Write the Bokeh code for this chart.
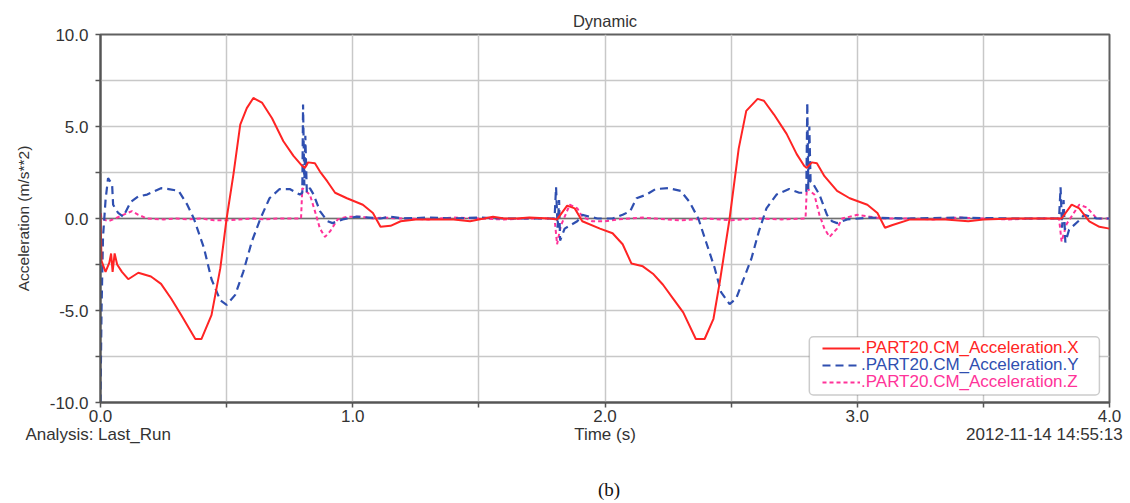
from bokeh.plotting import figure
from bokeh.models import (Range1d, FixedTicker, Span, Legend, LegendItem, LinearAxis,
                          BoxAnnotation, CustomJSTickFormatter)
from bokeh.embed import file_html
from bokeh.resources import INLINE

# ---------------- data ----------------
t_x = [0.000, 0.004, 0.020, 0.035, 0.042, 0.048, 0.056, 0.066, 0.085, 0.110, 0.150, 0.200,
       0.240, 0.280, 0.320, 0.376, 0.400, 0.440, 0.475, 0.500, 0.527, 0.554, 0.580, 0.606,
       0.640, 0.680, 0.725, 0.765, 0.800, 0.810, 0.823, 0.850, 0.870, 0.900, 0.930, 0.977,
       1.040, 1.080, 1.110, 1.150, 1.190, 1.250, 1.300, 1.350, 1.400, 1.465, 1.520, 1.556,
       1.600, 1.650, 1.700, 1.780, 1.810, 1.850, 1.880, 1.910, 1.980, 2.030, 2.070, 2.105,
       2.150, 2.190, 2.230, 2.270, 2.310, 2.360, 2.395, 2.430, 2.455, 2.494, 2.530, 2.560,
       2.605, 2.630, 2.670, 2.720, 2.760, 2.790, 2.800, 2.820, 2.840, 2.870, 2.920, 2.970,
       3.040, 3.080, 3.110, 3.140, 3.210, 3.290, 3.350, 3.440, 3.500, 3.620, 3.750, 3.810,
       3.850, 3.880, 3.920, 3.960, 4.000]
acc_x = [0.3, -2.3, -2.9, -2.4, -1.9, -2.9, -1.9, -2.5, -2.9, -3.3, -2.95, -3.15,
         -3.55, -4.35, -5.25, -6.55, -6.55, -5.25, -2.7, 0.0, 2.4, 5.1, 6.0, 6.55,
         6.3, 5.45, 4.2, 3.4, 2.85, 2.75, 3.05, 3.0, 2.55, 2.0, 1.4, 1.1,
         0.75, 0.3, -0.45, -0.4, -0.15, -0.05, -0.05, -0.05, -0.05, -0.15, 0.0, 0.1,
         0.0, 0.0, 0.05, 0.0, -0.05, 0.7, 0.55, -0.15, -0.55, -0.8, -1.4, -2.45,
         -2.6, -3.0, -3.6, -4.35, -5.1, -6.55, -6.55, -5.45, -3.45, 0.0, 3.8, 5.85,
         6.5, 6.4, 5.65, 4.6, 3.5, 2.85, 2.75, 3.05, 3.0, 2.3, 1.5, 1.1,
         0.75, 0.3, -0.5, -0.35, -0.05, -0.05, -0.05, -0.15, -0.05, 0.0, 0.0, 0.0,
         0.75, 0.55, -0.15, -0.45, -0.55]

t_y = [0.000, 0.004, 0.010, 0.020, 0.030, 0.046, 0.050, 0.070, 0.090, 0.120, 0.150, 0.185,
       0.240, 0.270, 0.310, 0.344, 0.370, 0.410, 0.440, 0.475, 0.500, 0.534, 0.566, 0.600,
       0.634, 0.670, 0.710, 0.750, 0.790, 0.800, 0.803, 0.808, 0.812, 0.818, 0.830, 0.845,
       0.870, 0.900, 0.920, 0.960, 1.015, 1.110, 1.150, 1.200, 1.300, 1.400, 1.500, 1.600,
       1.700, 1.800, 1.806, 1.812, 1.818, 1.822, 1.840, 1.890, 1.910, 1.970, 2.030, 2.070,
       2.100, 2.125, 2.165, 2.200, 2.250, 2.300, 2.335, 2.370, 2.400, 2.435, 2.460, 2.494,
       2.520, 2.545, 2.580, 2.610, 2.640, 2.680, 2.730, 2.770, 2.798, 2.802, 2.806, 2.810,
       2.815, 2.820, 2.850, 2.880, 2.900, 2.920, 2.960, 3.050, 3.200, 3.400, 3.600, 3.800,
       3.806, 3.812, 3.818, 3.825, 3.840, 3.880, 3.900, 3.950, 4.000]
acc_y = [-10.0, -5.0, -1.0, 1.0, 2.2, 1.85, 0.75, 0.3, 0.1, 0.9, 1.2, 1.3,
         1.65, 1.6, 1.5, 0.75, 0.0, -1.6, -3.3, -4.45, -4.7, -4.15, -2.9, -1.25,
         0.0, 1.1, 1.6, 1.6, 1.3, 1.4, 6.2, 1.8, 4.5, 1.4, 1.65, 1.3,
         0.4, -0.15, -0.25, -0.05, 0.1, 0.0, 0.1, 0.0, 0.05, 0.0, 0.05, 0.0,
         0.0, 0.0, 1.7, -0.5, 1.0, -1.2, -0.55, -0.15, 0.2, 0.0, 0.0, 0.2,
         0.4, 1.1, 1.3, 1.6, 1.65, 1.5, 0.9, 0.0, -1.25, -2.7, -4.0, -4.65,
         -4.35, -3.45, -2.2, -0.7, 0.55, 1.3, 1.6, 1.4, 1.4, 6.3, 1.6, 5.0,
         2.0, 2.0, 1.3, 0.2, -0.15, -0.25, -0.05, 0.05, 0.0, 0.05, 0.0, 0.0,
         1.7, -0.5, 1.0, -1.3, -0.6, -0.1, 0.2, 0.0, 0.0]

t_z = [0.000, 0.005, 0.030, 0.050, 0.090, 0.125, 0.150, 0.185, 0.250, 0.300, 0.350, 0.400,
       0.450, 0.500, 0.550, 0.600, 0.650, 0.700, 0.750, 0.795, 0.800, 0.830, 0.850, 0.870,
       0.890, 0.910, 0.940, 0.980, 1.030, 1.080, 1.120, 1.200, 1.300, 1.400, 1.500, 1.600,
       1.700, 1.800, 1.810, 1.825, 1.860, 1.890, 1.910, 1.950, 2.000, 2.050, 2.100, 2.150,
       2.200, 2.300, 2.400, 2.500, 2.600, 2.700, 2.795, 2.800, 2.830, 2.850, 2.870, 2.890,
       2.920, 2.940, 3.000, 3.050, 3.100, 3.200, 3.300, 3.400, 3.500, 3.600, 3.700, 3.800,
       3.810, 3.830, 3.880, 3.910, 3.950, 4.000]
acc_z = [0.3, 0.0, -0.15, -0.05, 0.2, 0.4, 0.2, 0.0, -0.05, 0.0, -0.05, 0.0,
         -0.1, -0.1, -0.05, 0.0, -0.05, 0.0, 0.0, 0.0, 1.65, 1.3, 0.4, -0.55,
         -1.0, -0.7, -0.05, 0.1, 0.1, 0.0, 0.05, 0.0, -0.05, 0.05, 0.0, -0.05,
         0.0, 0.0, -1.4, -0.4, 0.75, 0.55, 0.1, -0.15, -0.15, -0.05, 0.0, 0.05,
         0.0, -0.1, 0.0, -0.1, 0.0, -0.05, 0.0, 1.65, 1.3, 0.2, -0.55, -1.0,
         -0.55, 0.0, 0.2, 0.1, 0.0, 0.0, -0.05, 0.05, 0.0, -0.05, 0.0, 0.0,
         -1.25, -0.3, 0.75, 0.6, 0.0, 0.0]

x_ticks = [0.0, 1.0, 2.0, 3.0, 4.0]
y_ticks = [-10.0, -5.0, 0.0, 5.0, 10.0]
series_labels = [".PART20.CM_Acceleration.X", ".PART20.CM_Acceleration.Y",
                 ".PART20.CM_Acceleration.Z"]
title_text = "Dynamic"
y_label = "Acceleration (m/s**2)"
footer_texts = ["Analysis:  Last_Run", "Time (s)", "2012-11-14 14:55:13"]
caption_text = "(b)"

# ---------------- styling ----------------
FONT = "Liberation Sans"
TXT = "#333333"
RED = "#ff2424"
BLUE = "#2f4fb0"
PINK = "#ff3399"

p = figure(width=1130, height=503, output_backend="svg", toolbar_location=None,
           x_range=Range1d(0, 4), y_range=Range1d(-10, 10),
           min_border_left=100, min_border_right=21, min_border_top=34,
           min_border_bottom=101, background_fill_color="white",
           border_fill_color="white")

p.title.text = title_text
p.title.align = "center"
p.title.text_font = FONT
p.title.text_font_size = "16.5px"
p.title.text_font_style = "normal"
p.title.text_color = TXT

p.outline_line_color = "#606060"
p.outline_line_width = 2

fmt = CustomJSTickFormatter(code="return tick.toFixed(1);")
p.xaxis.ticker = FixedTicker(ticks=x_ticks, minor_ticks=[0.5, 1.5, 2.5, 3.5])
p.yaxis.ticker = FixedTicker(ticks=y_ticks, minor_ticks=[-7.5, -2.5, 2.5, 7.5])
p.xgrid.ticker = FixedTicker(ticks=[0, 0.5, 1, 1.5, 2, 2.5, 3, 3.5, 4])
p.ygrid.ticker = FixedTicker(ticks=[-10, -7.5, -5, -2.5, 0, 2.5, 5, 7.5, 10])
for g in (p.xgrid, p.ygrid):
    g.grid_line_color = "#c8c8c8"
    g.grid_line_width = 1.5

for ax in (p.xaxis, p.yaxis):
    ax.formatter = fmt
    ax.axis_line_color = "#555555"
    ax.axis_line_width = 2
    ax.major_tick_line_color = "#555555"
    ax.minor_tick_line_color = "#555555"
    ax.major_tick_line_width = 1.5
    ax.minor_tick_line_width = 1.5
    ax.major_tick_in = 0
    ax.minor_tick_in = 0
    ax.major_tick_out = 5
    ax.minor_tick_out = 5
    ax.major_label_text_font = FONT
    ax.major_label_text_font_size = "17px"
    ax.major_label_text_color = TXT
    ax.axis_label_text_font = FONT
    ax.axis_label_text_font_style = "normal"
    ax.axis_label_text_color = TXT

p.xaxis.major_label_standoff = 2
p.yaxis.major_label_standoff = 7
p.yaxis.axis_label = y_label
p.yaxis.axis_label_standoff = 15
p.yaxis.axis_label_text_font_size = "15.5px"

# footer line: "Analysis", "Time (s)", timestamp — as a second, line-less axis
footer_pos = [0.0, 2.0, 3.742]
foot = LinearAxis(ticker=FixedTicker(ticks=footer_pos),
                  major_label_overrides={k: v for k, v in zip(footer_pos, footer_texts)},
                  axis_line_alpha=0, major_tick_out=0, major_tick_in=0,
                  minor_tick_out=0, minor_tick_in=0, major_label_standoff=0,
                  major_label_text_font=FONT, major_label_text_font_size="17px",
                  major_label_text_color=TXT)
p.add_layout(foot, "below")

# caption "(b)" — a third line-less axis
cap_pos = [2.016]
cap = LinearAxis(ticker=FixedTicker(ticks=cap_pos),
                 major_label_overrides={cap_pos[0]: caption_text},
                 axis_line_alpha=0, major_tick_out=0, major_tick_in=0,
                 minor_tick_out=0, minor_tick_in=0, major_label_standoff=32,
                 major_label_text_font="Liberation Serif",
                 major_label_text_font_size="19px", major_label_text_color="#111111")
p.add_layout(cap, "below")

zero = Span(location=0, dimension="width", line_color="#707070", line_width=1.5,
            level="underlay")
p.add_layout(zero)

rz = p.line(t_z, acc_z, line_color=PINK, line_width=2, line_dash="4 3")
ry = p.line(t_y, acc_y, line_color=BLUE, line_width=2.2, line_dash="8 5")
rx = p.line(t_x, acc_x, line_color=RED, line_width=2)

# legend box
box = BoxAnnotation(left=2.81, right=3.96, top=-6.43, bottom=-9.59,
                    fill_color="white", fill_alpha=1.0,
                    line_color="#555555", line_width=1.5, border_radius=4)
p.add_layout(box)

rows = [(rx, RED, 44), (ry, BLUE, 27), (rz, PINK, 10)]
for (r, col, yb), lab in zip(rows, series_labels):
    lg = Legend(items=[LegendItem(label=lab, renderers=[r])], location=(722, yb),
                border_line_alpha=0, background_fill_alpha=0, padding=0, margin=0,
                spacing=0, glyph_width=38, glyph_height=16, label_height=16,
                label_standoff=1, label_text_font=FONT, label_text_font_size="17px",
                label_text_color=col)
    p.add_layout(lg)

open("out.html", "w").write(file_html(p, INLINE))
